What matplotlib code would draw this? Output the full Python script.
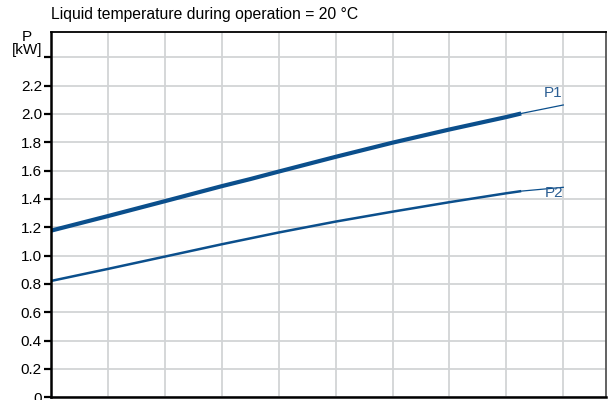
import numpy as np
import matplotlib.pyplot as plt

plt.rcParams['font.family'] = ['Liberation Sans', 'DejaVu Sans']

# flow axis in grid units (no labels shown in the picture)
p1_x = [0, 1, 2, 3, 3.5, 4, 5, 6, 7, 8, 8.26]
p1_y = [1.176, 1.279, 1.384, 1.49, 1.54, 1.593, 1.697, 1.797, 1.89, 1.978, 2.003]
p1_ext_x = [8.26, 9.0]
p1_ext_y = [2.003, 2.063]

p2_x = [0, 1, 2, 3, 4, 5, 6, 7, 8, 8.26]
p2_y = [0.821, 0.906, 0.993, 1.08, 1.163, 1.24, 1.31, 1.377, 1.44, 1.455]
p2_ext_x = [8.26, 9.0]
p2_ext_y = [1.455, 1.482]

y_ticks = [0, 0.2, 0.4, 0.6, 0.8, 1.0, 1.2, 1.4, 1.6, 1.8, 2.0, 2.2, 2.4]
y_labels = ['0', '0.2', '0.4', '0.6', '0.8', '1.0', '1.2', '1.4', '1.6', '1.8', '2.0', '2.2', 'P\n[kW]']

line_col = '#0b4f8c'
text_col = '#2c5f93'

fig = plt.figure(figsize=(6.09, 4.0), dpi=100)
axe = fig.add_axes([51 / 609, 2.7 / 400, 555 / 609, 365.3 / 400])

axe.plot(p1_x, p1_y, color=line_col, lw=3.0, solid_capstyle='butt')
axe.plot(p1_ext_x, p1_ext_y, color=line_col, lw=0.9)
axe.plot(p2_x, p2_y, color=line_col, lw=1.8, solid_capstyle='butt')
axe.plot(p2_ext_x, p2_ext_y, color=line_col, lw=0.9)

axe.text(8.82, 2.15, 'P1', color=text_col, fontsize=11, ha='center', va='center')
axe.text(8.84, 1.44, 'P2', color=text_col, fontsize=11, ha='center', va='center')

axe.set_xlim(0, 9.75)
axe.set_ylim(0, 2.578)
axe.set_xticks(range(1, 10))
axe.set_xticklabels([])
axe.tick_params(axis='x', length=0)
axe.set_yticks(y_ticks)
axe.set_yticklabels(y_labels, fontsize=11, linespacing=0.95)
axe.tick_params(axis='y', length=5, width=1.6, pad=1.5, direction='out')
top_lab = axe.get_yticklabels()[-1]
top_lab.set_verticalalignment('bottom')
top_lab.set_multialignment('center')
axe.grid(True, color='#d2d4d6', lw=1.3)
axe.set_axisbelow(True)

axe.spines['left'].set_linewidth(1.8)
axe.spines['bottom'].set_linewidth(1.8)
axe.spines['top'].set_linewidth(1.3)
axe.spines['right'].set_linewidth(1.3)
axe.spines['right'].set_color('#555555')

fig.text(51 / 609, 1 - 14.5 / 400, 'Liquid temperature during operation = 20 °C',
         fontsize=11.3, va='center', ha='left')

plt.savefig('out.png', dpi=100)
